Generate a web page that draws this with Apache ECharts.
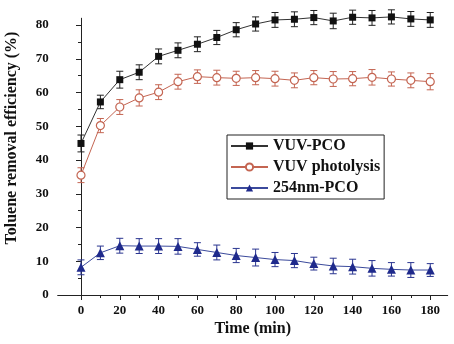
<!DOCTYPE html>
<html>
<head>
<meta charset="utf-8">
<script src="https://cdn.jsdelivr.net/npm/echarts@6/dist/echarts.min.js"></script>
<style>
  html, body { margin: 0; padding: 0; background: #fff; }
  #chart { width: 454px; height: 344px; }
</style>
</head>
<body>
<div id="chart"></div>
<script>
// 时间 (min)
const times = [0, 10, 20, 30, 40, 50, 60, 70, 80, 90, 100, 110, 120, 130, 140, 150, 160, 170, 180];

// VUV-PCO
const vuvPco = [44.9, 57.2, 63.8, 66.0, 70.7, 72.5, 74.3, 76.3, 78.6, 80.3, 81.5, 81.7, 82.2, 81.2, 82.3, 82.1, 82.4, 81.8, 81.5];
const vuvPcoErr = [2.5, 2.0, 2.5, 2.2, 2.2, 2.2, 2.2, 2.1, 2.1, 2.1, 2.2, 2.2, 2.1, 2.3, 2.1, 2.2, 2.1, 2.2, 2.2];

// VUV photolysis
const vuvPhoto = [35.5, 50.2, 55.7, 58.4, 60.1, 63.2, 64.7, 64.4, 64.2, 64.4, 64.1, 63.6, 64.4, 64.0, 64.1, 64.5, 64.0, 63.6, 63.2];
const vuvPhotoErr = [2.2, 2.1, 2.2, 2.4, 2.2, 2.2, 2.0, 2.2, 2.1, 2.1, 2.2, 2.2, 2.1, 2.2, 2.1, 2.3, 2.1, 2.2, 2.4];

// 254nm-PCO
const pco254 = [8.2, 12.5, 14.6, 14.5, 14.5, 14.4, 13.5, 12.6, 11.7, 11.1, 10.5, 10.2, 9.3, 8.6, 8.4, 7.9, 7.6, 7.4, 7.4];
const pco254Err = [2.2, 2.0, 2.2, 2.2, 2.2, 2.3, 2.0, 2.2, 2.1, 2.5, 2.1, 2.1, 1.9, 2.3, 2.2, 2.3, 2.0, 2.2, 1.9];

// 刻度
const xTickStep = 20;
const yTickStep = 10;

const serif = '"Liberation Serif", "DejaVu Serif", serif';

// 误差棒
function errorBars (name, vals, errs, color) {
  return {
    type: 'custom',
    name: name + '-err',
    xAxisIndex: 0,
    yAxisIndex: 0,
    z: 1,
    clip: false,
    encode: { x: 0, y: [1, 2] },
    data: times.map(function (t, i) { return [t, vals[i] - errs[i], vals[i] + errs[i]]; }),
    renderItem: function (params, api) {
      const lo = api.coord([api.value(0), api.value(1)]);
      const hi = api.coord([api.value(0), api.value(2)]);
      const w = 3.5;
      const style = { stroke: color, lineWidth: 1 };
      return {
        type: 'group',
        children: [
          { type: 'line', shape: { x1: hi[0], y1: hi[1], x2: lo[0], y2: lo[1] }, style: style },
          { type: 'line', shape: { x1: hi[0] - w, y1: hi[1], x2: hi[0] + w, y2: hi[1] }, style: style },
          { type: 'line', shape: { x1: lo[0] - w, y1: lo[1], x2: lo[0] + w, y2: lo[1] }, style: style }
        ]
      };
    }
  };
}

function pairs (vals) {
  return times.map(function (t, i) { return [t, vals[i]]; });
}

const myChart = echarts.init(document.getElementById('chart'));

const option = {
  animation: false,
  backgroundColor: '#fff',
  grid: [
    // 数据区 (轴线)
    { left: 57.7, right: 6.3, top: 18.25, bottom: 49 },
    // 刻度区 (0-180, 0-80)
    { left: 81, right: 23.8, top: 25, bottom: 49 }
  ],
  legend: {
    orient: 'vertical',
    left: 227,
    top: 135,
    data: ['VUV-PCO', 'VUV photolysis', '254nm-PCO'],
    backgroundColor: '#fff',
    borderColor: '#222',
    borderWidth: 1,
    padding: [3, 4, 3, 3],
    itemGap: 5,
    itemWidth: 37,
    itemHeight: 9,
    textStyle: {
      fontFamily: serif,
      fontWeight: 'bold',
      fontSize: 16,
      color: '#111'
    }
  },
  xAxis: [
    {
      gridIndex: 0,
      type: 'value',
      min: -12,
      max: 189,
      axisLine: { show: true, lineStyle: { color: '#222', width: 1 } },
      axisTick: { show: false },
      axisLabel: { show: false },
      splitLine: { show: false },
      name: 'Time (min)',
      nameLocation: 'middle',
      nameGap: 26,
      nameTextStyle: {
        fontFamily: serif,
        fontWeight: 'bold',
        fontSize: 16,
        color: '#111'
      }
    },
    {
      gridIndex: 1,
      type: 'value',
      min: 0,
      max: 180,
      interval: xTickStep,
      axisLine: { show: false },
      axisTick: { show: true, inside: false, length: 5, lineStyle: { color: '#222' } },
      minorTick: { show: true, splitNumber: 2, length: 3, lineStyle: { color: '#222' } },
      axisLabel: {
        margin: 9,
        fontFamily: serif,
        fontWeight: 'bold',
        fontSize: 13,
        color: '#111'
      },
      splitLine: { show: false }
    }
  ],
  yAxis: [
    {
      gridIndex: 0,
      type: 'value',
      min: 0,
      max: 82,
      axisLine: { show: true, lineStyle: { color: '#222', width: 1 } },
      axisTick: { show: false },
      axisLabel: { show: false },
      splitLine: { show: false }
    },
    {
      gridIndex: 1,
      type: 'value',
      min: 0,
      max: 80,
      interval: yTickStep,
      offset: 23.3,
      axisLine: { show: false },
      axisTick: { show: true, inside: false, length: 5, lineStyle: { color: '#222' } },
      minorTick: { show: true, splitNumber: 2, length: 3, lineStyle: { color: '#222' } },
      axisLabel: {
        margin: 9,
        fontFamily: serif,
        fontWeight: 'bold',
        fontSize: 13,
        color: '#111'
      },
      splitLine: { show: false }
    }
  ],
  graphic: [
    {
      type: 'text',
      x: 12,
      y: 138,
      rotation: Math.PI / 2,
      style: {
        text: 'Toluene removal efficiency (%)',
        font: 'bold 16px ' + serif,
        fill: '#111',
        align: 'center',
        verticalAlign: 'middle'
      }
    }
  ],
  series: [
    errorBars('VUV-PCO', vuvPco, vuvPcoErr, '#222'),
    errorBars('VUV photolysis', vuvPhoto, vuvPhotoErr, '#c46552'),
    errorBars('254nm-PCO', pco254, pco254Err, '#2a3590'),
    {
      type: 'line',
      name: 'VUV-PCO',
      xAxisIndex: 0,
      yAxisIndex: 0,
      z: 3,
      clip: false,
      data: pairs(vuvPco),
      symbol: 'rect',
      symbolSize: 7,
      itemStyle: { color: '#111' },
      lineStyle: { color: '#333', width: 1 }
    },
    {
      type: 'line',
      name: 'VUV photolysis',
      xAxisIndex: 0,
      yAxisIndex: 0,
      z: 3,
      clip: false,
      data: pairs(vuvPhoto),
      symbol: 'circle',
      symbolSize: 8,
      itemStyle: { color: '#fff', borderColor: '#c46552', borderWidth: 1.2 },
      lineStyle: { color: '#c46552', width: 1 }
    },
    {
      type: 'line',
      name: '254nm-PCO',
      xAxisIndex: 0,
      yAxisIndex: 0,
      z: 3,
      clip: false,
      data: pairs(pco254),
      symbol: 'triangle',
      symbolSize: 9,
      itemStyle: { color: '#1f2a8c' },
      lineStyle: { color: '#3b4a9c', width: 1 }
    }
  ]
};

myChart.setOption(option);

window.addEventListener('resize', function () {
  myChart.resize();
});
</script>
</body>
</html>
